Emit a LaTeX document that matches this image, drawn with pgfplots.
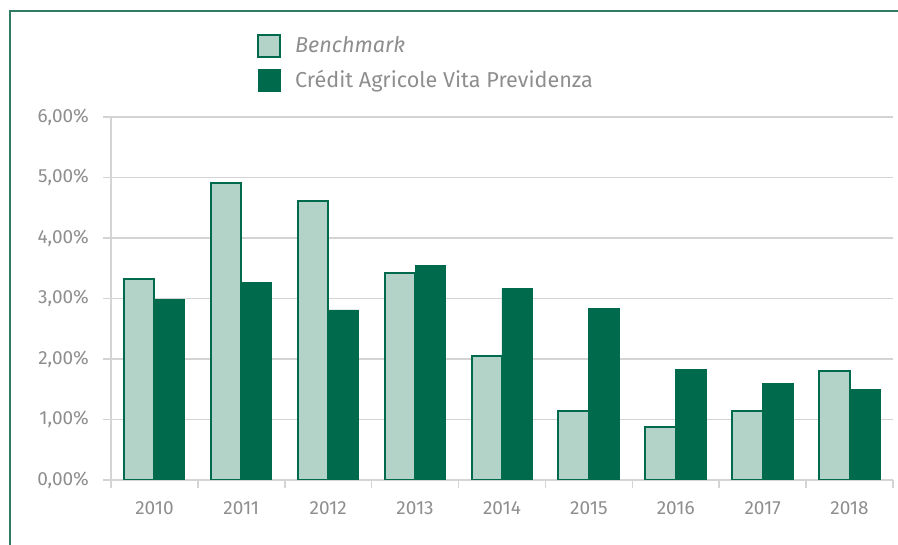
\documentclass[border=0pt]{standalone}
\usepackage{fontspec}
\setmainfont{Fira Sans}
\usepackage{pgfplots}
\pgfplotsset{compat=1.18}
\definecolor{bench}{HTML}{B3D3C9}
\definecolor{cavp}{HTML}{006A4C}
\definecolor{gridc}{HTML}{D4D4D4}
\definecolor{txt}{HTML}{8E8E8E}
\definecolor{framec}{HTML}{2F7C62}
\pgfplotsset{sqlegend/.style={legend image code/.code={%
    \draw[##1] (0pt,-5.5pt) rectangle (11pt,5.5pt);}}}

\begin{document}
\begin{tikzpicture}[font=\fontsize{9.5}{11}\selectfont]
\useasboundingbox (0,0) rectangle (449pt,272.5pt);
% outer frame (left + top only visible)
\draw[framec, line width=0.8pt] (5pt,0) -- (5pt,267pt) -- (449pt,267pt);

\begin{axis}[
    at={(55.5pt,32.5pt)}, anchor=south west,
    scale only axis, width=391pt, height=181.5pt,
    ybar=0pt, bar width=15.2pt,
    xmin=-0.5, xmax=8.5, ymin=0, ymax=6,
    axis x line*=bottom, axis y line*=left,
    axis line style={gridc, line width=0.8pt},
    xtick={0,...,8},
    xticklabels={2010,2011,2012,2013,2014,2015,2016,2017,2018},
    minor xtick={-0.5,0.5,...,8.5},
    major x tick style={draw=none},
    minor x tick style={gridc, line width=0.8pt},
    y tick style={gridc, line width=0.8pt},
    tick align=outside,
    major tick length=4pt, minor tick length=4pt,
    ytick={0,1,...,6},
    yticklabels={{0,00\%},{1,00\%},{2,00\%},{3,00\%},{4,00\%},{5,00\%},{6,00\%}},
    ymajorgrids, grid style={gridc, line width=0.8pt},
    tick label style={text=txt},
    /pgf/number format/assume math mode=true,
    yticklabel style={xshift=-3.5pt},
    xticklabel style={yshift=-3.5pt},
    legend style={at={(rel axis cs:0.1787,1.242)}, anchor=north west,
        draw=none, fill=none, text=txt, row sep=5.5pt, column sep=7pt,
        font=\fontsize{10.8}{12}\selectfont,
        nodes={inner sep=0pt, text=txt, anchor=west}},
    legend cell align=left,
]
\addplot[fill=bench, draw=cavp, line width=1pt, sqlegend]
    coordinates {(0,3.32) (1,4.91) (2,4.61) (3,3.42) (4,2.05)
                 (5,1.14) (6,0.88) (7,1.14) (8,1.80)};
\addlegendentry{\itshape Benchmark}
\addplot[fill=cavp, draw=cavp, line width=0.4pt, sqlegend]
    coordinates {(0,2.99) (1,3.27) (2,2.81) (3,3.54) (4,3.16)
                 (5,2.84) (6,1.82) (7,1.60) (8,1.50)};
\addlegendentry{Crédit Agricole Vita Previdenza}
\end{axis}
\end{tikzpicture}
\end{document}
